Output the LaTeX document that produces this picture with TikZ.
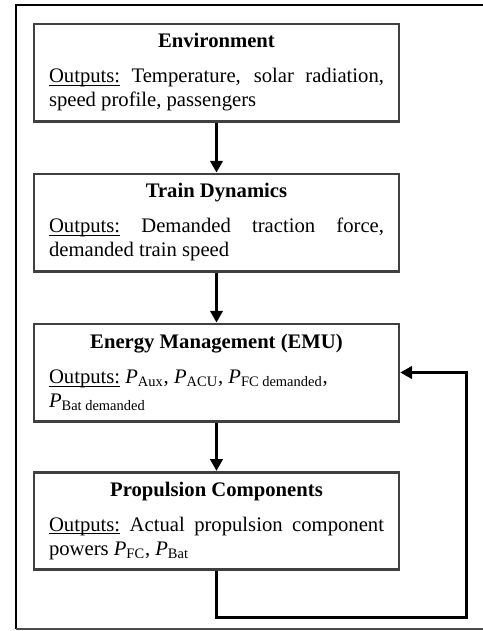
\documentclass[tikz,border=0pt]{standalone}
\usepackage{fontspec}
\setmainfont{Liberation Serif}
\usepackage{tikz}
\usetikzlibrary{positioning, arrows.meta}
\tikzset{stage/.style={draw=black!75,line width=1.6pt,rectangle,text width=201pt,inner xsep=9pt,inner ysep=3pt,minimum height=58.4pt,align=justify,font=\fontsize{12.4}{14.4}\selectfont}}
\tikzset{flow/.style={line width=1.5pt,-{Triangle[length=7pt,width=7.5pt]}}}
\newcommand{\stagetext}[2]{{\centering\textbf{#1}\par}\vspace{6.6pt}\underline{\smash{Outputs:}} #2}
\newcommand{\pw}[1]{\textit{P}\textsubscript{#1}}

\begin{document}
\begin{tikzpicture}
    \useasboundingbox (0,0) rectangle (289.8pt,-378.6pt);
    % Outer frame:
    \draw [line width=1.6pt] (300pt,-3pt) -- (9.6pt,-3pt) -- (9.6pt,-377.4pt);
    \draw [line width=1.2pt,black!70] (9.6pt,-377.4pt) -- (300pt,-377.4pt);

    % Stages
    \node [stage] (env) at (129.9pt,-43.5pt) {\stagetext{Environment}{Temperature, solar radiation,\linebreak speed profile, passengers}};
    \node [stage,below=30pt of env] (dyn) {\stagetext{Train Dynamics}{Demanded traction force,\linebreak demanded train speed}};
    \node [stage,below=30pt of dyn] (emu) {\stagetext{Energy Management (EMU)}{\pw{Aux}, \pw{ACU}, \pw{FC demanded},\newline \pw{Bat demanded}}};
    \node [stage,below=29pt of emu] (prop) {\stagetext{Propulsion Components}{Actual propulsion component\linebreak powers \pw{FC}, \pw{Bat}}};

    % Arrows
    \draw [flow] (env) -- (dyn);
    \draw [flow] (dyn) -- (emu);
    \draw [flow] (emu) -- (prop);

    %feedback
    \coordinate (back) at ([xshift=39.6pt,yshift=-147pt]emu.east);
    \draw [flow] (prop.south) |- (back) |- (emu.east);
\end{tikzpicture}
\end{document}
